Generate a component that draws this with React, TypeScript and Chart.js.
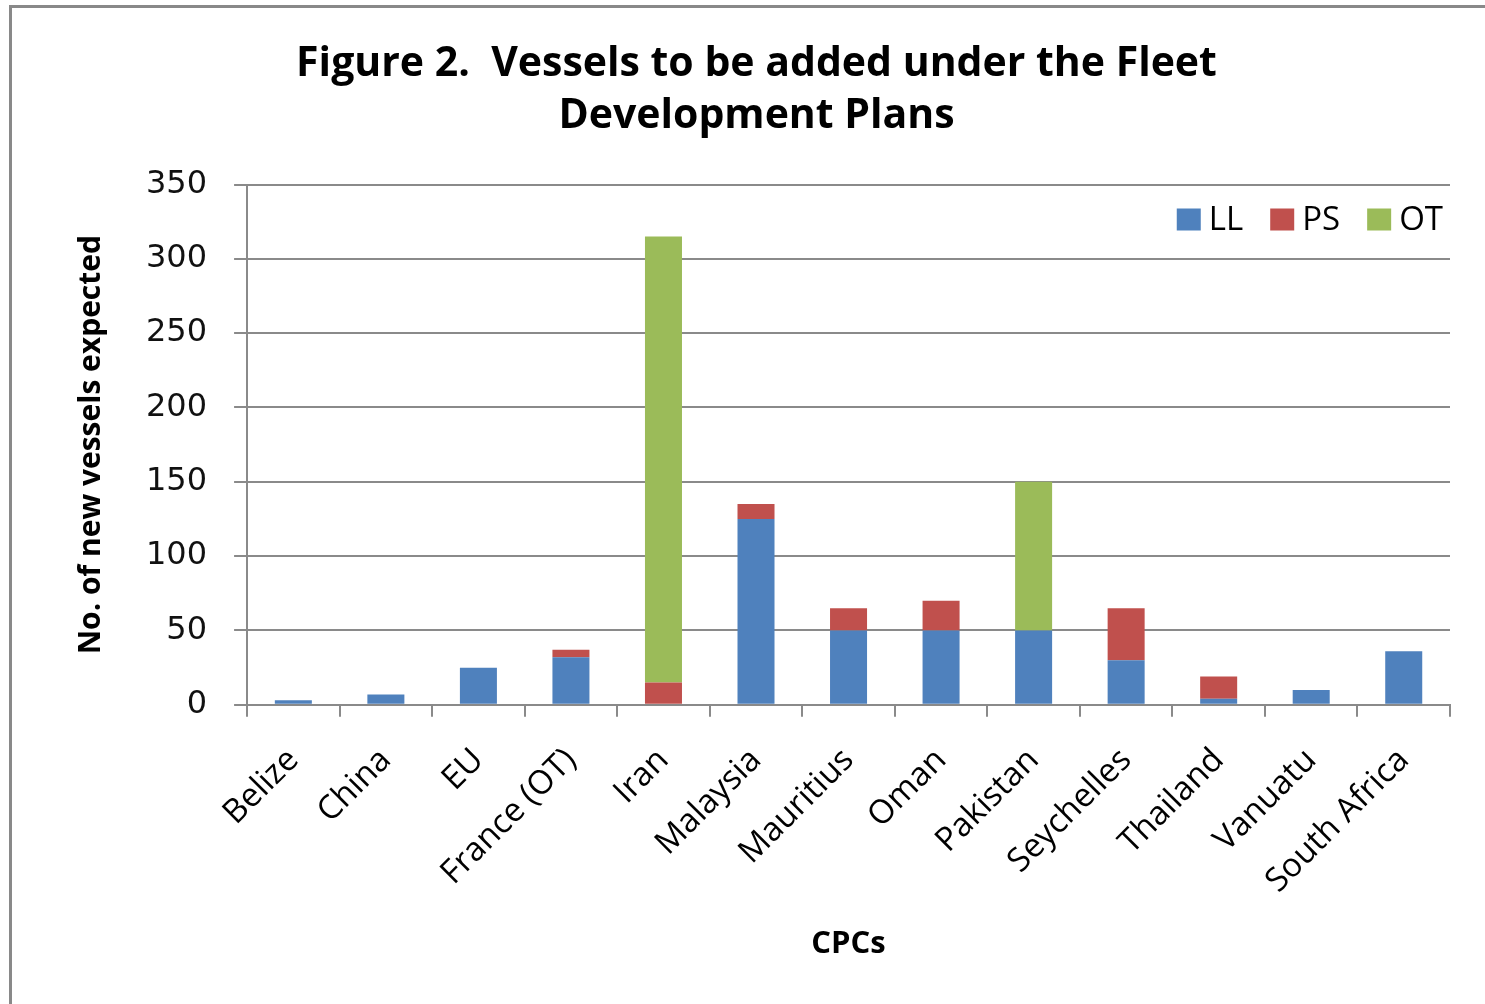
import React, { useEffect, useRef } from "react";
import { Chart, registerables } from "chart.js";

Chart.register(...registerables);

const categories = [
  "Belize",
  "China",
  "EU",
  "France (OT)",
  "Iran",
  "Malaysia",
  "Mauritius",
  "Oman",
  "Pakistan",
  "Seychelles",
  "Thailand",
  "Vanuatu",
  "South Africa",
];
const llValues = [3, 7, 25, 32, 0, 125, 50, 50, 50, 30, 4, 10, 36];
const psValues = [0, 0, 0, 5, 15, 10, 15, 20, 0, 35, 15, 0, 0];
const otValues = [0, 0, 0, 0, 300, 0, 0, 0, 100, 0, 0, 0, 0];
const seriesNames = ["LL", "PS", "OT"];
const seriesColors = ["#4F81BD", "#C0504D", "#9BBB59"];
const yMin = 0;
const yMax = 350;
const yStep = 50;
const titleLines = ["Figure 2.  Vessels to be added under the Fleet", "Development Plans"];
const xTitle = "CPCs";
const yTitle = "No. of new vessels expected";

const GRID = "#8a8a8a";

const insideLegend = {
  id: "insideLegend",
  afterDraw(chart: any) {
    const ctx = chart.ctx as CanvasRenderingContext2D;
    const area = chart.chartArea;
    ctx.save();
    ctx.font = "33px 'Open Sans'";
    ctx.textBaseline = "middle";
    const boxW = 24;
    const boxH = 22;
    const gap = 8;
    const itemGap = 27;
    const items = chart.data.datasets.map((ds: any) => ({
      label: ds.label as string,
      color: ds.backgroundColor as string,
      w: ctx.measureText(ds.label).width,
    }));
    const total =
      items.reduce((s: number, it: any) => s + boxW + gap + it.w, 0) +
      itemGap * (items.length - 1);
    let x = area.right - 7 - total;
    const cy = area.top + 35;
    for (const it of items) {
      ctx.fillStyle = it.color;
      ctx.fillRect(x, cy - boxH / 2, boxW, boxH);
      x += boxW + gap;
      ctx.fillStyle = "#000";
      ctx.fillText(it.label, x, cy + 1);
      x += it.w + itemGap;
    }
    ctx.restore();
  },
};

export default function App() {
  const canvasRef = useRef<HTMLCanvasElement | null>(null);

  useEffect(() => {
    if (!canvasRef.current) return;
    const dataSets = [llValues, psValues, otValues].map((vals, i) => ({
      label: seriesNames[i],
      data: vals.map((v) => (v === 0 ? null : v)),
      backgroundColor: seriesColors[i],
      borderWidth: 0,
      categoryPercentage: 1,
      barPercentage: 0.4,
    }));
    const chart = new Chart(canvasRef.current, {
      type: "bar",
      data: { labels: categories, datasets: dataSets as any },
      options: {
        animation: false,
        responsive: false,
        events: [],
        layout: { padding: { left: 51, right: 35, top: 0, bottom: 41 } },
        plugins: {
          legend: { display: false },
          tooltip: { enabled: false },
          title: {
            display: true,
            text: titleLines,
            color: "#000",
            font: { family: "'Open Sans'", size: 41, weight: "bold", lineHeight: 1.25 },
            padding: { top: 31, bottom: 43 },
          },
        },
        scales: {
          x: {
            stacked: true,
            grid: {
              display: true,
              drawOnChartArea: false,
              drawTicks: true,
              tickLength: 12,
              color: GRID,
              lineWidth: 2,
              offset: true,
            },
            border: { display: true, color: GRID, width: 2 },
            ticks: {
              color: "#000",
              font: { family: "'Open Sans'", size: 33 },
              minRotation: 45,
              maxRotation: 45,
              padding: 24,
              autoSkip: false,
            },
            title: {
              display: true,
              text: xTitle,
              color: "#000",
              font: { family: "'Open Sans'", size: 31, weight: "bold", lineHeight: 1.2 },
              padding: { top: 1, bottom: 0 },
            },
          },
          y: {
            stacked: true,
            min: yMin,
            max: yMax,
            ticks: {
              stepSize: yStep,
              color: "#111",
              font: { family: "'DejaVu Sans'", size: 32 },
              padding: 27,
            },
            grid: { color: GRID, lineWidth: 2, tickLength: 13 },
            border: { display: true, color: GRID, width: 2 },
            title: {
              display: true,
              text: yTitle,
              color: "#000",
              font: { family: "'Open Sans'", size: 30, weight: "bold", lineHeight: 1.2 },
              padding: 10,
            },
          },
        },
      },
      plugins: [insideLegend],
    });
    return () => chart.destroy();
  }, []);

  return (
    <div
      style={{
        position: "fixed",
        left: 0,
        top: 0,
        width: 1485,
        height: 1004,
        background: "#fff",
        overflow: "hidden",
      }}
    >
      <div
        style={{
          position: "absolute",
          left: 9,
          top: 5,
          right: 0,
          bottom: 0,
          borderTop: "3px solid #898989",
          borderLeft: "3px solid #898989",
        }}
      />
      <canvas
        ref={canvasRef}
        width={1473}
        height={996}
        style={{ position: "absolute", left: 12, top: 8, display: "block" }}
      />
    </div>
  );
}
